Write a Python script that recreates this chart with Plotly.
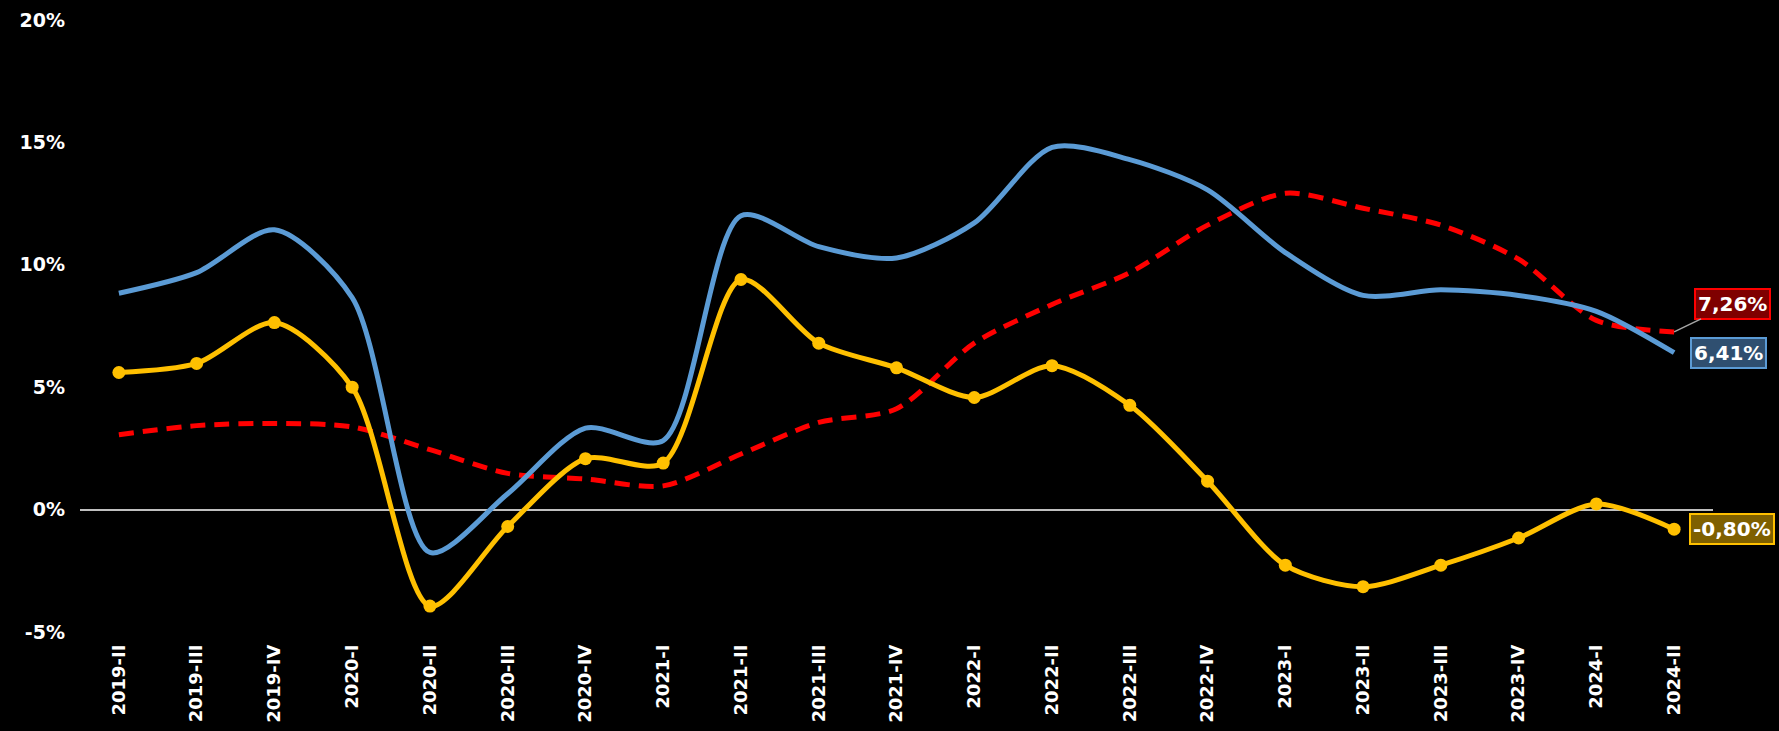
import plotly.graph_objects as go

categories = ["2019-II", "2019-III", "2019-IV", "2020-I", "2020-II", "2020-III", "2020-IV",
              "2021-I", "2021-II", "2021-III", "2021-IV", "2022-I", "2022-II", "2022-III",
              "2022-IV", "2023-I", "2023-II", "2023-III", "2023-IV", "2024-I", "2024-II"]

blue_values = [8.84, 9.68, 11.43, 8.66, -1.75, 0.65, 3.33, 2.82, 12.0, 10.74, 10.28, 11.71,
               14.8, 14.3, 13.06, 10.5, 8.75, 8.98, 8.75, 8.1, 6.41]

yellow_values = [5.6, 5.97, 7.64, 5.0, -3.94, -0.69, 2.08, 1.9, 9.4, 6.8, 5.79, 4.58,
                 5.88, 4.26, 1.16, -2.27, -3.15, -2.27, -1.16, 0.23, -0.80]

red_values = [3.06, 3.43, 3.52, 3.38, 2.45, 1.48, 1.25, 0.97, 2.27, 3.56, 4.12, 6.8,
              8.38, 9.68, 11.62, 12.92, 12.31, 11.62, 10.23, 7.73, 7.26]

y_ticks = [-5, 0, 5, 10, 15, 20]
y_tick_labels = ["-5%", "0%", "5%", "10%", "15%", "20%"]

FONT = "DejaVu Sans"

fig = go.Figure()

fig.add_trace(go.Scatter(
    x=categories, y=red_values, mode="lines",
    line=dict(color="#ff0000", width=5, dash="15px,9px", shape="spline", smoothing=0.8),
    hoverinfo="skip", showlegend=False))

fig.add_trace(go.Scatter(
    x=categories, y=blue_values, mode="lines",
    line=dict(color="#5b9bd5", width=5, shape="spline", smoothing=0.8),
    hoverinfo="skip", showlegend=False))

fig.add_trace(go.Scatter(
    x=categories, y=yellow_values, mode="lines+markers",
    line=dict(color="#ffc000", width=5, shape="spline", smoothing=0.8),
    marker=dict(color="#ffc000", size=13),
    hoverinfo="skip", showlegend=False))

def fmt(v):
    return ("%.2f%%" % v).replace(".", ",")

last = categories[-1]
label_font = dict(family=FONT, size=20, color="white")
fig.add_annotation(x=last, y=red_values[-1], text="<b>" + fmt(red_values[-1]) + "</b>",
                   showarrow=True, arrowhead=0, arrowwidth=1.5, arrowcolor="#a6a6a6",
                   ax=58, ay=-28, bgcolor="#7f0000", bordercolor="#ff0000", borderwidth=2,
                   borderpad=2, font=label_font)
fig.add_annotation(x=last, y=blue_values[-1], text="<b>" + fmt(blue_values[-1]) + "</b>",
                   showarrow=False, xanchor="left", xshift=16,
                   bgcolor="#2f4f70", bordercolor="#5b9bd5", borderwidth=2,
                   borderpad=2, font=label_font)
fig.add_annotation(x=last, y=yellow_values[-1], text="<b>" + fmt(yellow_values[-1]) + "</b>",
                   showarrow=False, xanchor="left", xshift=15,
                   bgcolor="#7f6000", bordercolor="#ffc000", borderwidth=2,
                   borderpad=2, font=label_font)

fig.update_layout(
    width=1779, height=731,
    paper_bgcolor="black", plot_bgcolor="black",
    margin=dict(l=80, r=66, t=20, b=99),
    showlegend=False,
    xaxis=dict(
        type="category", range=[-0.5, 20.5], showgrid=False, zeroline=False,
        showline=False, ticks="", tickangle=-90, ticklabelstandoff=8, automargin=False,
        tickfont=dict(family=FONT, size=18, color="white", weight="bold"),
    ),
    yaxis=dict(
        range=[-5, 20], tickvals=y_ticks, ticktext=y_tick_labels,
        showgrid=False, zeroline=True, zerolinecolor="#bfbfbf", zerolinewidth=2,
        showline=False, ticks="", ticklabelstandoff=14, automargin=False,
        tickfont=dict(family=FONT, size=19, color="white", weight="bold"),
    ),
)

fig.write_html(
    "out.html",
    config={"displayModeBar": False},
    post_script="document.body.style.margin='0';document.body.style.background='black';",
)
